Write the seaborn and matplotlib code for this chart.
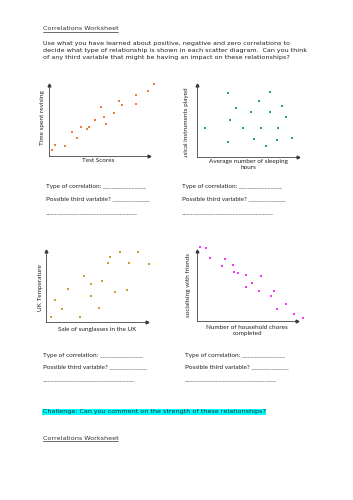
import numpy as np
import pandas as pd
import matplotlib
matplotlib.use("Agg")
import matplotlib.pyplot as plt
from matplotlib.lines import Line2D
from matplotlib.transforms import Bbox
import seaborn as sns

# Scatter data (arbitrary 0-10 scale per axis)
test_scores = [0.24, 0.60, 1.60, 2.27, 2.77, 3.14, 3.80, 3.97, 4.54, 5.14,
               5.44, 5.64, 6.44, 7.00, 7.27, 8.67, 8.74, 9.90, 10.54]
time_revising = [0.80, 1.55, 1.41, 3.38, 2.54, 4.04, 3.80, 4.13, 5.07, 6.94,
                 5.49, 4.46, 6.01, 7.75, 7.18, 8.63, 7.32, 9.20, 10.10]

sleep_hours = [3.10, 7.26, 6.20, 3.92, 8.45, 5.41, 7.26, 8.84, 3.27, 0.79,
               4.58, 6.40, 8.05, 3.10, 5.64, 7.98, 9.41, 6.83]
instruments = [8.89, 9.07, 7.79, 6.82, 7.14, 6.22, 6.31, 5.53, 5.16, 4.09,
               4.05, 4.05, 4.01, 2.12, 2.49, 2.35, 2.63, 1.56]

sunglasses = [0.55, 0.89, 1.57, 2.22, 3.35, 3.77, 4.49, 4.49, 5.25, 5.54,
              6.13, 6.33, 6.82, 7.31, 8.00, 8.23, 9.06, 10.17]
uk_temp = [0.74, 3.13, 1.78, 4.63, 0.70, 6.45, 5.29, 3.65, 1.96, 5.79,
           8.27, 9.07, 4.17, 9.78, 4.53, 8.23, 9.78, 8.18]

chores = [0.36, 0.96, 1.30, 2.83, 2.50, 3.63, 3.76, 4.10, 4.93, 6.40,
          5.50, 4.90, 6.23, 7.70, 7.40, 8.90, 8.06, 9.76, 10.63]
socialising = [10.57, 10.38, 9.00, 8.86, 7.87, 8.01, 6.97, 6.87, 6.50, 6.44,
               5.45, 4.79, 4.31, 4.27, 3.60, 2.42, 1.75, 0.95, 0.43]

W, H = 353, 500
sns.set_style("white")
plt.rcParams['font.family'] = ['DejaVu Sans']

fig = plt.figure(figsize=(W / 100, H / 100), dpi=100)
TXT = '#222222'
LAB_FONT = ['Lato', 'DejaVu Sans']


def px(x, y):
    return x / W, 1 - y / H


def add_panel(box, x, y, color, xlabel, ylabel, xlab_pos, ylab_pos, clip=None):
    x0, y0, x1, y1 = box
    ax = fig.add_axes([x0 / W, 1 - y1 / H, (x1 - x0) / W, (y1 - y0) / H])
    df = pd.DataFrame({'x': x, 'y': y})
    sns.scatterplot(data=df, x='x', y='y', ax=ax, color=color, marker='s',
                    s=2.5, linewidth=0, clip_on=False)
    ax.set_xlim(0, 10)
    ax.set_ylim(0, 10)
    ax.set_xticks([])
    ax.set_yticks([])
    ax.set_xlabel('')
    ax.set_ylabel('')
    for s in ['top', 'right']:
        ax.spines[s].set_visible(False)
    for s in ['left', 'bottom']:
        ax.spines[s].set_color('#444444')
        ax.spines[s].set_linewidth(0.6)
    ax.plot(1, 0, '>', color='#333333', ms=2, transform=ax.transAxes, clip_on=False)
    ax.plot(0, 1, '^', color='#333333', ms=2, transform=ax.transAxes, clip_on=False)
    fig.text(*px(*xlab_pos), xlabel, ha='center', va='top', fontsize=4.6,
             family=LAB_FONT, color=TXT, linespacing=1.35)
    t = fig.text(*px(*ylab_pos), ylabel, ha='center', va='center', rotation=90,
                 fontsize=4.6, family=LAB_FONT, color=TXT)
    if clip is not None:
        t.set_clip_on(True)
        t.set_clip_box(Bbox.from_extents(0, H - clip, W, H))
    return ax


add_panel((49.3, 85, 149, 156), test_scores, time_revising, '#F07D3A',
          'Test Scores', 'Time spent revising', (97.7, 158), (42.5, 118))
add_panel((196.7, 85, 297.7, 157.3), sleep_hours, instruments, '#23999A',
          'Average number of sleeping\nhours', 'Musical instruments played',
          (248.3, 159), (186.7, 126), clip=158)
add_panel((45.7, 250.7, 147.3, 322), sunglasses, uk_temp, '#C9A22E',
          'Sale of sunglasses in the UK', 'UK Temperature', (96.7, 326.5), (40.5, 288))
add_panel((196.7, 250.7, 296.7, 321), chores, socialising, '#F03CF0',
          'Number of household chores\ncompleted', 'socialising with friends',
          (247.3, 325), (188.3, 285))

# Worksheet text
def underlined(x, y, s):
    t = fig.text(*px(x, y), s, ha='left', va='center', fontsize=4.6, color='#333333')
    fig.canvas.draw()
    bb = t.get_window_extent()
    fig.add_artist(Line2D([bb.x0 / W, bb.x1 / W], [(bb.y0 - 0.6) / H] * 2,
                          color='#333333', lw=0.5))


underlined(42.7, 29, 'Correlations Worksheet')
fig.text(*px(42.7, 50.7),
         'Use what you have learned about positive, negative and zero correlations to\n'
         'decide what type of relationship is shown in each scatter diagram.  Can you think\n'
         'of any third variable that might be having an impact on these relationships?',
         ha='left', va='center', fontsize=4.6, color=TXT, linespacing=1.45)

form_rows = [(46, 186.5, 199, 213), (181.7, 186.5, 199, 213),
             (42.7, 355, 366.7, 380), (185, 355, 366.7, 380)]
for x, ya, yb, yc in form_rows:
    fig.text(*px(x, ya), 'Type of correlation: _______________', ha='left', va='center',
             fontsize=4.6, family=LAB_FONT, color=TXT)
    fig.text(*px(x, yb), 'Possible third variable? _____________', ha='left', va='center',
             fontsize=4.6, family=LAB_FONT, color=TXT)
    fig.text(*px(x, yc), '________________________________', ha='left', va='center',
             fontsize=4.6, family=LAB_FONT, color=TXT)

fig.text(*px(42.7, 412), 'Challenge: Can you comment on the strength of these relationships?',
         ha='left', va='center', fontsize=4.6, color=TXT,
         bbox=dict(facecolor='#00FFFF', edgecolor='none', pad=0.6))
underlined(42.7, 438.3, 'Correlations Worksheet')

fig.savefig('out.png', dpi=100, facecolor='white')
